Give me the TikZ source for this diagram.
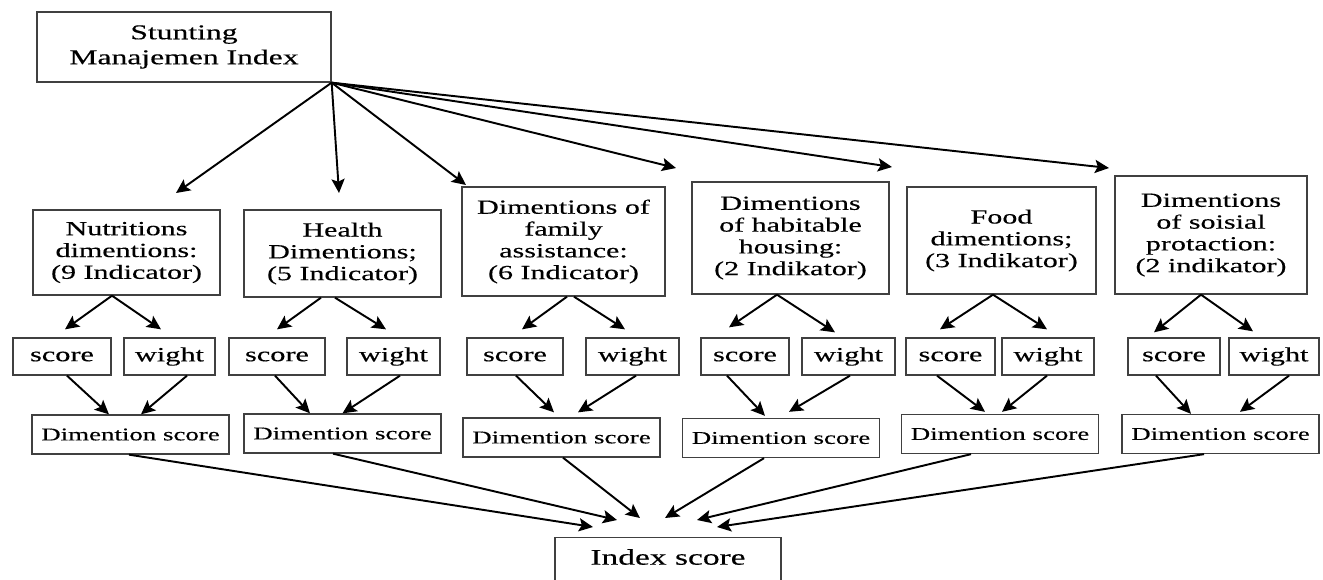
\documentclass[tikz,border=0pt]{standalone}
\usepackage{fontspec}
\setmainfont{Liberation Serif}[FakeStretch=1.5, FakeBold=0.35]
\usepackage{tikz}
\usetikzlibrary{calc}
\usetikzlibrary{arrows.meta}
\definecolor{boxgray}{rgb}{0.25, 0.25, 0.25}

\tikzset{
  box/.style={draw=boxgray, line width=0.75pt, inner sep=0pt, align=center},
  dimbox/.style={box, font=\fontsize{11.4}{12.4}\selectfont},
  swbox/.style={box, minimum height=7.4mm, font=\fontsize{11.5}{13}\selectfont},
  dsbox/.style={box, minimum width=39.4mm, minimum height=7.8mm, font=\fontsize{10.2}{12}\selectfont},
  arr/.style={line width=1.1pt, -{Stealth[length=8pt, width=7.5pt, inset=1.6pt]}}
}

\begin{document}
\begin{tikzpicture}[x=0.2mm, y=-0.2mm]
  \fill[white] (0,0) rectangle (1323,579);
  \clip (0,0) rectangle (1323,579);

  \node[box, minimum width=58.8mm, minimum height=14mm, font=\fontsize{12}{14.2}\selectfont] (smi) at (184,47) {Stunting\\Manajemen Index};

  \node[dimbox, minimum width=37.4mm, minimum height=17mm] (d1) at (126.5,252.5) {Nutritions\\dimentions:\\(9 Indicator)};
  \node[dimbox, minimum width=39.4mm, minimum height=17.4mm] (d2) at (342.5,253.5) {Health\\Dimentions;\\(5 Indicator)};
  \node[dimbox, minimum width=40.6mm, minimum height=21.8mm] (d3) at (563.5,241.5) {Dimentions of\\family\\assistance:\\(6 Indicator)};
  \node[dimbox, minimum width=39.4mm, minimum height=22.4mm] (d4) at (790.5,238) {Dimentions\\of habitable\\housing:\\(2 Indikator)};
  \node[dimbox, minimum width=37.8mm, minimum height=21.4mm] (d5) at (1001.5,240.5) {Food\\dimentions;\\(3 Indikator)};
  \node[dimbox, minimum width=38.4mm, minimum height=23.6mm] (d6) at (1211,235) {Dimentions\\of soisial\\protaction:\\(2 indikator)};

  \coordinate (t1) at (176,193);
  \coordinate (t2) at (339,193);
  \coordinate (t3) at (466,185);
  \coordinate (t4) at (676,168);
  \coordinate (t5) at (892,167);
  \coordinate (t6) at (1109,168);

  \draw[arr] (smi.south east) -- (t1);
  \draw[arr] (smi.south east) -- (t2);
  \draw[arr] (smi.south east) -- (t3);
  \draw[arr] (smi.south east) -- (t4);
  \draw[arr] (smi.south east) -- (t5);
  \draw[arr] (smi.south east) -- (t6);

  \node[swbox, minimum width=19.6mm] (s1) at (62,356.5) {score};
  \node[swbox, minimum width=18.2mm] (w1) at (169.5,356.5) {wight};
  \node[swbox, minimum width=19.2mm] (s2) at (277,356.5) {score};
  \node[swbox, minimum width=18.6mm] (w2) at (393.5,356.5) {wight};
  \node[swbox, minimum width=19.2mm] (s3) at (515,356.5) {score};
  \node[swbox, minimum width=18.6mm] (w3) at (632.5,356.5) {wight};
  \node[swbox, minimum width=17.6mm] (s4) at (745,356.5) {score};
  \node[swbox, minimum width=18.6mm] (w4) at (848.5,356.5) {wight};
  \node[swbox, minimum width=17.8mm] (s5) at (950.5,356.5) {score};
  \node[swbox, minimum width=18.4mm] (w5) at (1048,356.5) {wight};
  \node[swbox, minimum width=18.4mm] (s6) at (1174,356.5) {score};
  \node[swbox, minimum width=18mm] (w6) at (1274,356.5) {wight};

  \draw[arr] ($(d1.south)+(-14.5,0)$) -- ($(s1.north)+(3,-8)$);
  \draw[arr] ($(d1.south)+(-14.5,0)$) -- ($(w1.north)+(-8.5,-8)$);
  \draw[arr] ($(d2.south)+(-21.5,0)$) -- ($(s2.north)+(0,-8)$);
  \draw[arr] ($(d2.south)+(-7.5,0)$) -- ($(w2.north)+(-7.5,-8)$);
  \draw[arr] ($(d3.south)+(3.5,0)$) -- ($(s3.north)+(7,-8)$);
  \draw[arr] ($(d3.south)+(10.5,0)$) -- ($(w3.north)+(-7.5,-8)$);
  \draw[arr] ($(d4.south)+(-13.5,0)$) -- ($(s4.north)+(-16,-10)$);
  \draw[arr] ($(d4.south)+(-13.5,0)$) -- ($(w4.north)+(-13.5,-5)$);
  \draw[arr] ($(d5.south)+(-8.5,0)$) -- ($(s5.north)+(-10.5,-8)$);
  \draw[arr] ($(d5.south)+(-8.5,0)$) -- ($(w5.north)+(-1,-8)$);
  \draw[arr] ($(d6.south)+(-10,0)$) -- ($(s6.north)+(-20,-5)$);
  \draw[arr] ($(d6.south)+(-10,0)$) -- ($(w6.north)+(-21,-6)$);

  \node[dsbox] (ds1) at (130.5,434.5) {Dimention score};
  \node[dsbox] (ds2) at (342.5,433.5) {Dimention score};
  \node[dsbox] (ds3) at (561.5,437.5) {Dimention score};
  \node[dsbox] (ds4) at (781,438) {Dimention score};
  \node[dsbox] (ds5) at (1000,434) {Dimention score};
  \node[dsbox] (ds6) at (1220.5,434) {Dimention score};

  \draw[arr] ($(s1.south)+(5,0)$) -- ($(ds1.north)+(-21.5,0)$);
  \draw[arr] ($(w1.south)+(17.5,0)$) -- ($(ds1.north)+(10.5,0)$);
  \draw[arr] ($(s2.south)+(-2,0)$) -- ($(ds2.north)+(-32.5,0)$);
  \draw[arr] ($(w2.south)+(6.5,0)$) -- ($(ds2.north)+(0,0)$);
  \draw[arr] ($(s3.south)+(1,0)$) -- ($(ds3.north)+(-7.5,-5)$);
  \draw[arr] ($(w3.south)+(3.5,0)$) -- ($(ds3.north)+(16.5,-5)$);
  \draw[arr] ($(s4.south)+(-18,0)$) -- ($(ds4.north)+(-16,-2)$);
  \draw[arr] ($(w4.south)+(1.5,0)$) -- ($(ds4.north)+(8,-6)$);
  \draw[arr] ($(s5.south)+(-13.5,0)$) -- ($(ds5.north)+(-15,-2)$);
  \draw[arr] ($(w5.south)+(-1,0)$) -- ($(ds5.north)+(2,-2)$);
  \draw[arr] ($(s6.south)+(-18,0)$) -- ($(ds6.north)+(-29.5,0)$);
  \draw[arr] ($(w6.south)+(15,0)$) -- ($(ds6.north)+(19.5,-2)$);

  \node[box, anchor=north, minimum width=45.2mm, text height=5.4mm, text depth=10mm, font=\fontsize{12.7}{15}\selectfont] (idx) at (668,537) {Index score};

  \draw[arr] ($(ds1.south)+(-1.5,0)$) -- ($(idx.north)+(-75,-10)$);
  \draw[arr] ($(ds2.south)+(-9.5,0)$) -- ($(idx.north)+(-51,-17)$);
  \draw[arr] ($(ds3.south)+(1.5,0)$) -- ($(idx.north)+(-28,-19)$);
  \draw[arr] ($(ds4.south)+(-17,0)$) -- ($(idx.north)+(-3,-19)$);
  \draw[arr] ($(ds5.south)+(-29,0)$) -- ($(idx.north)+(29,-17)$);
  \draw[arr] ($(ds6.south)+(-16.5,0)$) -- ($(idx.north)+(49,-10)$);
\end{tikzpicture}
\end{document}
